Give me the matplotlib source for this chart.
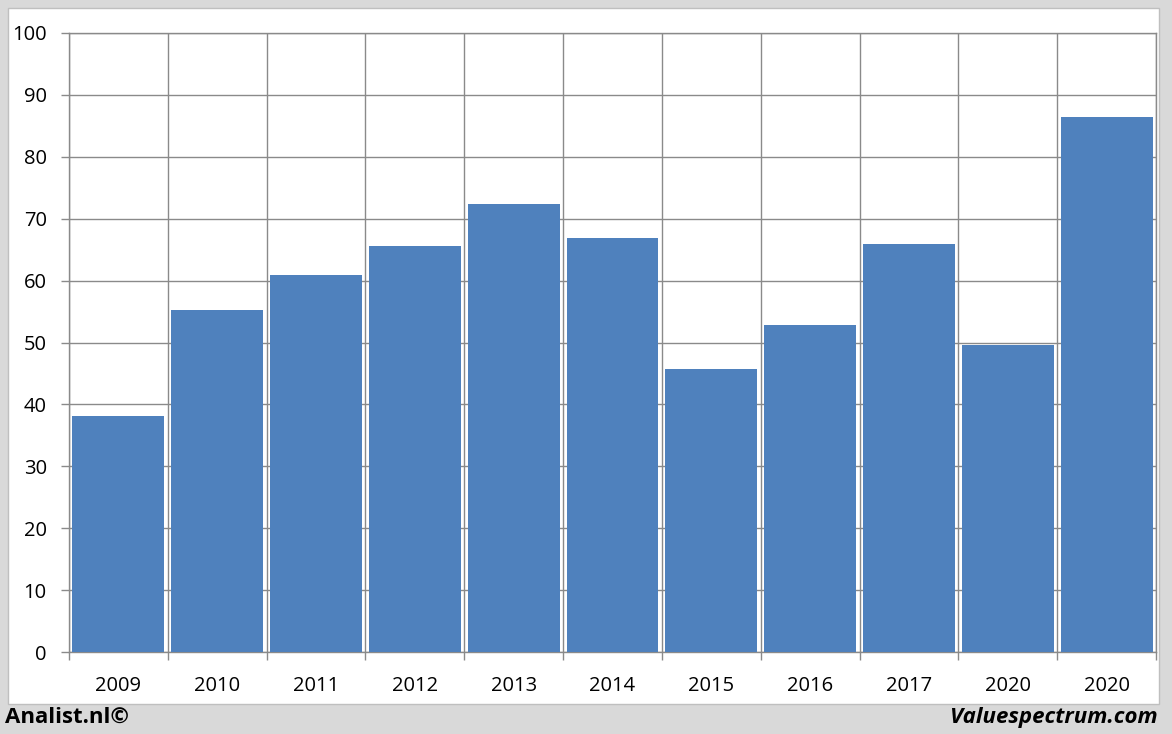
import matplotlib.pyplot as plt
from matplotlib.patches import Rectangle
import numpy as np

years = ["2009", "2010", "2011", "2012", "2013", "2014", "2015", "2016", "2017", "2020", "2020"]
values = [38.1, 55.2, 60.9, 65.6, 72.4, 66.9, 45.7, 52.9, 65.9, 49.6, 86.4]
yticks = [0, 10, 20, 30, 40, 50, 60, 70, 80, 90, 100]

BAR_COLOR = "#4f81bd"
GRID_COLOR = "#8a8a8a"
plt.rcParams["font.family"] = ["Open Sans", "DejaVu Sans"]

fig = plt.figure(figsize=(11.72, 7.34), dpi=100)
fig.patch.set_facecolor("#d9d9d9")
panel = Rectangle((8 / 1172, 1 - 704 / 734), 1151 / 1172, 696 / 734,
                  transform=fig.transFigure, facecolor="white",
                  edgecolor="#bfbfbf", linewidth=1, zorder=-1)
fig.patches.append(panel)

ax = fig.add_axes([69 / 1172, 1 - 652 / 734, 1087 / 1172, 619 / 734])
ax.set_zorder(2)
ax.set_facecolor("none")
x = np.arange(len(years))
ax.bar(x, values, width=0.93, color=BAR_COLOR, zorder=3)

ax.set_xlim(-0.5, len(years) - 0.5)
ax.set_ylim(0, 100)
ax.set_yticks(yticks)
ax.set_yticklabels([str(t) for t in yticks], fontsize=14.5)
ax.set_xticks(x)
ax.set_xticklabels(years, fontsize=14.5)
ax.set_xticks(np.arange(len(years) + 1) - 0.5, minor=True)

ax.tick_params(axis="y", length=6, width=1, color=GRID_COLOR, pad=10)
ax.tick_params(axis="x", which="major", length=0, pad=17)
ax.tick_params(axis="x", which="minor", length=6, width=1, color=GRID_COLOR)
ax.grid(axis="y", color=GRID_COLOR, linewidth=1, zorder=1)
ax.grid(axis="x", which="minor", color=GRID_COLOR, linewidth=1, zorder=1)
for side in ["left", "right", "top", "bottom"]:
    ax.spines[side].set_color(GRID_COLOR)
    ax.spines[side].set_linewidth(1)

fig.text(5 / 1172, 1 - 717 / 734, "Analist.nl©", fontsize=16, fontweight="bold",
         ha="left", va="center")
fig.text(1158 / 1172, 1 - 717 / 734, "Valuespectrum.com", fontsize=16,
         fontweight="bold", fontstyle="italic", ha="right", va="center")

fig.savefig("out.png", dpi=100, facecolor=fig.get_facecolor())
